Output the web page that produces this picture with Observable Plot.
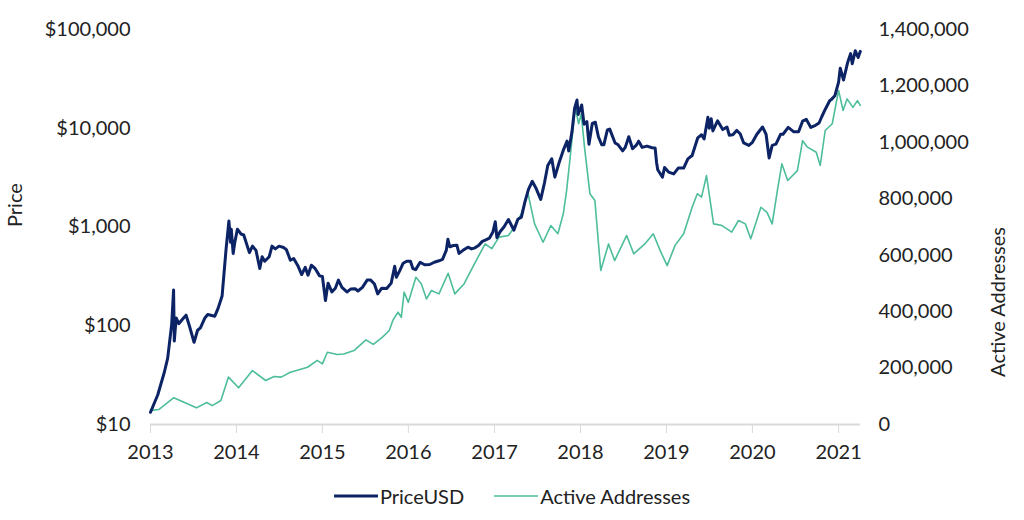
<!DOCTYPE html>
<html>
<head>
<meta charset="utf-8">
<script src="https://cdn.jsdelivr.net/npm/d3@7"></script>
<script src="https://cdn.jsdelivr.net/npm/@observablehq/plot@0.6"></script>
<style>
  body { margin: 0; background: #fff; font-family: Lato, "Open Sans", sans-serif; }
  #chart svg { display: block; }
  .legend { display: flex; justify-content: center; align-items: center; gap: 30px; margin-top: 14px; font-size: 20px; color: #222; font-family: Lato, sans-serif; }
  .legend span { display: flex; align-items: center; }
  .legend svg { margin-right: 2px; }
</style>
</head>
<body>
<div id="chart"></div>
<div class="legend">
  <span><svg width="44" height="10"><line x1="0" y1="5" x2="44" y2="5" stroke="#0c2466" stroke-width="3"/></svg>PriceUSD</span>
  <span><svg width="44" height="10"><line x1="0" y1="5" x2="44" y2="5" stroke="#4dbd9c" stroke-width="1.6"/></svg>Active Addresses</span>
</div>
<script>
const priceDates = ["2013-01-01","2013-02-01","2013-03-01","2013-03-15","2013-04-01","2013-04-09","2013-04-12","2013-04-20","2013-05-01","2013-05-15","2013-06-01","2013-06-15","2013-07-05","2013-07-20","2013-08-01","2013-08-20","2013-09-01","2013-10-01","2013-10-15","2013-11-01","2013-11-18","2013-11-30","2013-12-07","2013-12-10","2013-12-18","2013-12-25","2014-01-05","2014-01-20","2014-02-01","2014-02-25","2014-03-10","2014-03-25","2014-04-10","2014-04-20","2014-05-01","2014-05-20","2014-06-01","2014-06-15","2014-07-01","2014-07-20","2014-08-01","2014-08-18","2014-09-01","2014-09-20","2014-10-05","2014-10-20","2014-11-01","2014-11-15","2014-12-01","2014-12-20","2015-01-01","2015-01-14","2015-01-25","2015-02-10","2015-02-25","2015-03-10","2015-03-25","2015-04-15","2015-05-01","2015-05-20","2015-06-01","2015-06-20","2015-07-10","2015-07-25","2015-08-10","2015-08-24","2015-09-10","2015-10-01","2015-10-20","2015-11-04","2015-11-11","2015-11-25","2015-12-10","2015-12-25","2016-01-10","2016-01-20","2016-02-01","2016-02-20","2016-03-10","2016-04-01","2016-04-20","2016-05-10","2016-05-25","2016-06-10","2016-06-17","2016-06-25","2016-07-10","2016-07-25","2016-08-03","2016-08-20","2016-09-10","2016-09-25","2016-10-10","2016-10-25","2016-11-10","2016-11-25","2016-12-10","2016-12-25","2017-01-04","2017-01-11","2017-01-25","2017-02-10","2017-03-01","2017-03-24","2017-04-10","2017-04-25","2017-05-10","2017-05-25","2017-06-10","2017-06-25","2017-07-16","2017-08-01","2017-08-15","2017-09-01","2017-09-14","2017-10-01","2017-10-20","2017-11-05","2017-11-12","2017-11-26","2017-12-07","2017-12-17","2017-12-22","2018-01-06","2018-01-16","2018-01-28","2018-02-06","2018-02-20","2018-03-05","2018-03-18","2018-04-01","2018-04-10","2018-04-25","2018-05-05","2018-05-28","2018-06-10","2018-06-29","2018-07-10","2018-07-25","2018-08-10","2018-08-25","2018-09-05","2018-09-20","2018-10-10","2018-11-01","2018-11-14","2018-11-20","2018-11-25","2018-12-15","2018-12-24","2019-01-10","2019-02-01","2019-02-20","2019-03-15","2019-04-02","2019-04-20","2019-05-14","2019-05-30","2019-06-10","2019-06-26","2019-07-02","2019-07-10","2019-07-17","2019-08-06","2019-08-28","2019-09-15","2019-09-25","2019-10-10","2019-10-26","2019-11-10","2019-11-25","2019-12-17","2020-01-01","2020-01-20","2020-02-13","2020-02-28","2020-03-12","2020-03-25","2020-04-10","2020-04-30","2020-05-10","2020-06-01","2020-06-25","2020-07-15","2020-08-01","2020-08-17","2020-09-05","2020-09-25","2020-10-10","2020-10-21","2020-11-05","2020-11-24","2020-12-01","2020-12-16","2021-01-01","2021-01-08","2021-01-22","2021-02-08","2021-02-21","2021-02-28","2021-03-13","2021-03-25","2021-04-03"];
const priceUSD = [13.3,20,34,47,104,230,70,120,105,115,128,100,68,90,95,120,130,125,150,200,600,1150,700,950,540,700,950,850,830,550,640,580,380,500,450,500,640,600,640,620,590,460,480,400,330,390,325,410,380,320,315,180,270,220,240,290,245,220,235,237,225,245,290,290,265,210,240,238,270,400,310,360,430,450,450,380,370,440,415,417,440,455,470,580,750,630,650,655,540,580,625,600,615,650,715,740,770,890,1130,780,900,1000,1190,930,1200,1260,1800,2400,2900,2500,1900,2800,4200,4900,3200,4400,6000,7400,5900,9300,16000,19300,13800,17200,11000,11700,6900,11200,11500,8200,6800,6800,9600,9800,7100,6800,5900,6400,8200,6200,6700,7400,6400,6600,6350,6300,4500,3800,3200,4000,3600,3450,3950,3950,4900,5300,8000,8600,7800,12900,10000,12500,9400,11900,9700,10300,8500,8600,9500,8800,7100,6700,7200,8700,10300,8700,5000,6700,6900,8700,8700,10200,9200,9200,11800,12300,10200,10700,11300,13000,15500,19000,19500,21300,29300,40500,30800,46000,57000,45000,61000,52000,60000];

const addrDates = ["2013-01-01","2013-02-05","2013-04-10","2013-07-15","2013-08-28","2013-09-20","2013-10-27","2013-11-28","2014-01-10","2014-03-10","2014-05-05","2014-06-10","2014-07-10","2014-08-18","2014-10-30","2014-12-10","2015-01-01","2015-01-22","2015-03-05","2015-04-01","2015-05-15","2015-07-05","2015-08-05","2015-09-12","2015-10-12","2015-10-27","2015-11-18","2015-12-02","2015-12-14","2016-01-01","2016-02-02","2016-02-25","2016-03-18","2016-04-08","2016-05-10","2016-06-18","2016-07-16","2016-08-25","2016-10-08","2016-11-22","2016-12-20","2017-01-20","2017-03-01","2017-03-28","2017-04-25","2017-05-22","2017-06-20","2017-07-26","2017-08-28","2017-09-27","2017-10-20","2017-11-03","2017-11-18","2017-12-10","2017-12-24","2018-01-04","2018-01-18","2018-02-10","2018-03-03","2018-03-28","2018-04-30","2018-05-26","2018-07-16","2018-08-15","2018-10-01","2018-11-06","2018-12-05","2019-01-04","2019-02-06","2019-03-15","2019-04-20","2019-05-12","2019-05-30","2019-06-20","2019-07-20","2019-08-25","2019-10-05","2019-11-03","2019-12-02","2019-12-25","2020-02-06","2020-03-03","2020-03-25","2020-04-16","2020-05-05","2020-05-30","2020-07-10","2020-08-01","2020-08-22","2020-09-28","2020-10-15","2020-11-05","2020-12-05","2021-01-01","2021-01-20","2021-02-06","2021-03-03","2021-03-22","2021-04-03"];
const activeAddresses = [50000,53000,95000,59000,78000,67000,85000,168000,130000,191000,156000,170000,168000,185000,203000,227000,215000,256000,248000,250000,262000,300000,284000,309000,333000,369000,398000,380000,469000,433000,522000,499000,445000,475000,463000,536000,463000,499000,570000,640000,623000,664000,670000,702000,747000,823000,711000,646000,705000,676000,747000,829000,947000,1124000,1066000,1101000,983000,818000,794000,546000,640000,581000,670000,605000,640000,676000,617000,563000,634000,676000,770000,818000,806000,882000,711000,705000,682000,723000,711000,658000,770000,752000,711000,829000,924000,865000,900000,1006000,983000,965000,918000,1042000,1066000,1184000,1113000,1154000,1124000,1148000,1131000];

const priceTicks = [10, 100, 1000, 10000, 100000];
const addrTicks = [0, 200000, 400000, 600000, 800000, 1000000, 1200000, 1400000];
const addrMax = 1400000;

// map active addresses onto the log price scale so both share the vertical axis
const aToY = a => 10 * Math.pow(10, 4 * a / addrMax);

const parse = d3.utcParse("%Y-%m-%d");
const priceData = priceDates.map((d, i) => ({date: parse(d), value: priceUSD[i]}));
const addrData = addrDates.map((d, i) => ({date: parse(d), value: activeAddresses[i]}));

const font = "Lato, 'Open Sans', sans-serif";
const chart = Plot.plot({
  width: 1024,
  height: 470,
  marginTop: 29,
  marginBottom: 46,
  marginLeft: 150,
  marginRight: 164,
  style: {fontFamily: font, fontSize: "20px", color: "#222", background: "#fff"},
  x: {type: "utc", domain: [parse("2013-01-01"), parse("2021-04-04")]},
  y: {type: "log", domain: [10, 100000]},
  marks: [
    Plot.ruleY([10], {stroke: "#d9d9d9", strokeWidth: 2}),
    Plot.axisX({ticks: d3.utcYear.every(1), tickFormat: "%Y", tickSize: 9, tickPadding: 11, stroke: "#d9d9d9", fill: "#222", label: null}),
    Plot.axisY(priceTicks, {anchor: "left", tickSize: 0, tickPadding: 20, tickFormat: d => "$" + d3.format(",")(d), fill: "#222", label: null}),
    Plot.text(addrTicks, {y: d => aToY(d), frameAnchor: "right", dx: 18, textAnchor: "start", text: d => d3.format(",")(d), fontSize: 20, fill: "#222"}),
    Plot.text(["Price"], {frameAnchor: "left", dx: -135, rotate: -90, fontSize: 20, fill: "#222"}),
    Plot.text(["Active Addresses"], {frameAnchor: "right", dx: 138, rotate: -90, fontSize: 20, fill: "#222"}),
    Plot.lineY(addrData, {x: "date", y: d => aToY(d.value), stroke: "#4dbd9c", strokeWidth: 1.6}),
    Plot.lineY(priceData, {x: "date", y: "value", stroke: "#0c2466", strokeWidth: 3})
  ]
});
document.getElementById("chart").appendChild(chart);
</script>
</body>
</html>
